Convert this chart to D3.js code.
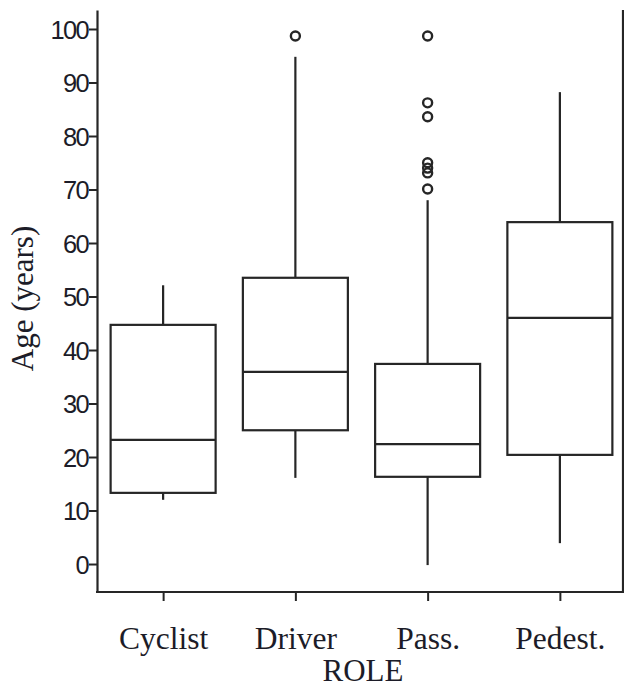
<!DOCTYPE html>
<html>
<head>
<meta charset="utf-8">
<script src="https://cdn.jsdelivr.net/npm/d3@7"></script>
<style>
  html, body { margin: 0; padding: 0; background: #fff; }
  svg { display: block; }
</style>
</head>
<body>
<svg id="chart" width="624" height="689"></svg>
<script>
// ---- data ----
const roles = ["Cyclist", "Driver", "Pass.", "Pedest."];
const whiskerLow = [12.0, 16.1, -0.2, 3.9];
const q1 = [13.3, 25.0, 16.3, 20.4];
const median = [23.2, 35.9, 22.4, 46.0];
const q3 = [44.7, 53.5, 37.4, 63.9];
const whiskerHigh = [52.1, 94.8, 68.0, 88.2];
const outliers = [
  [],
  [98.7],
  [98.7, 86.2, 83.6, 75.0, 74.0, 73.1, 70.1],
  []
];
const yTicks = [0, 10, 20, 30, 40, 50, 60, 70, 80, 90, 100];

// ---- layout ----
const svg = d3.select("#chart");
const mLeft = 97, mRight = 623, mTop = 10, mBottom = 592;
const ink = "#262626";
const textInk = "#1c1c28";
const serif = "'Liberation Serif', 'Times New Roman', serif";

const x = d3.scalePoint().domain(roles).range([mLeft, 626]).padding(0.5);
const y = d3.scaleLinear().domain([-5.23, 103.55]).range([mBottom, mTop]);
const boxW = 105;

// y axis
const yAxis = svg.append("g")
  .attr("transform", `translate(${mLeft},0)`)
  .call(d3.axisLeft(y).tickValues(yTicks).tickSize(8).tickSizeOuter(0).tickPadding(1));
yAxis.select(".domain").attr("stroke", ink).attr("stroke-width", 2.2);
yAxis.selectAll(".tick line").attr("stroke", ink).attr("stroke-width", 2);
yAxis.selectAll(".tick text")
  .attr("fill", textInk)
  .style("font-family", "'Liberation Sans', Arial, sans-serif")
  .style("font-size", "25.5px")
  .style("letter-spacing", "-1.7px")
  .attr("dy", "0.36em");

// x axis
const xAxis = svg.append("g")
  .attr("transform", `translate(0,${mBottom})`)
  .call(d3.axisBottom(x).tickSize(9).tickSizeOuter(0).tickPadding(26));
xAxis.select(".domain").remove();
xAxis.selectAll(".tick line").attr("stroke", ink).attr("stroke-width", 2);
xAxis.selectAll(".tick text")
  .attr("fill", textInk)
  .style("font-family", serif)
  .style("font-size", "31.5px");

// frame lines (bottom + right)
svg.append("line").attr("x1", mLeft - 1).attr("x2", mRight + 1)
  .attr("y1", mBottom).attr("y2", mBottom)
  .attr("stroke", ink).attr("stroke-width", 2.2);
svg.append("line").attr("x1", mRight).attr("x2", mRight)
  .attr("y1", mTop).attr("y2", mBottom)
  .attr("stroke", ink).attr("stroke-width", 2.2);

// boxes
const data = roles.map((r, i) => ({
  role: r, lo: whiskerLow[i], q1: q1[i], med: median[i], q3: q3[i], hi: whiskerHigh[i], out: outliers[i]
}));

const g = svg.append("g").attr("stroke", ink).attr("stroke-width", 2.2).attr("fill", "none");
const b = g.selectAll("g.box").data(data).join("g").attr("class", "box");

b.append("line")
  .attr("x1", d => x(d.role)).attr("x2", d => x(d.role))
  .attr("y1", d => y(d.q3)).attr("y2", d => y(d.hi));
b.append("line")
  .attr("x1", d => x(d.role)).attr("x2", d => x(d.role))
  .attr("y1", d => y(d.q1)).attr("y2", d => y(d.lo));
b.append("rect")
  .attr("x", d => x(d.role) - boxW / 2).attr("width", boxW)
  .attr("y", d => y(d.q3)).attr("height", d => y(d.q1) - y(d.q3));
b.append("line")
  .attr("x1", d => x(d.role) - boxW / 2).attr("x2", d => x(d.role) + boxW / 2)
  .attr("y1", d => y(d.med)).attr("y2", d => y(d.med));
b.selectAll("circle").data(d => d.out.map(v => ({ role: d.role, v })))
  .join("circle")
  .attr("cx", d => x(d.role)).attr("cy", d => y(d.v))
  .attr("r", 4.5).attr("stroke-width", 2.4);

// axis titles
svg.append("text")
  .attr("x", (mLeft + mRight) / 2 + 3).attr("y", 681)
  .attr("text-anchor", "middle")
  .attr("fill", textInk)
  .style("font-family", serif)
  .style("font-size", "31px")
  .text("ROLE");

svg.append("text")
  .attr("transform", `translate(33,${y(50) + 2}) rotate(-90)`)
  .attr("text-anchor", "middle")
  .attr("fill", textInk)
  .style("font-family", serif)
  .style("font-size", "31px")
  .text("Age (years)");
</script>
</body>
</html>
